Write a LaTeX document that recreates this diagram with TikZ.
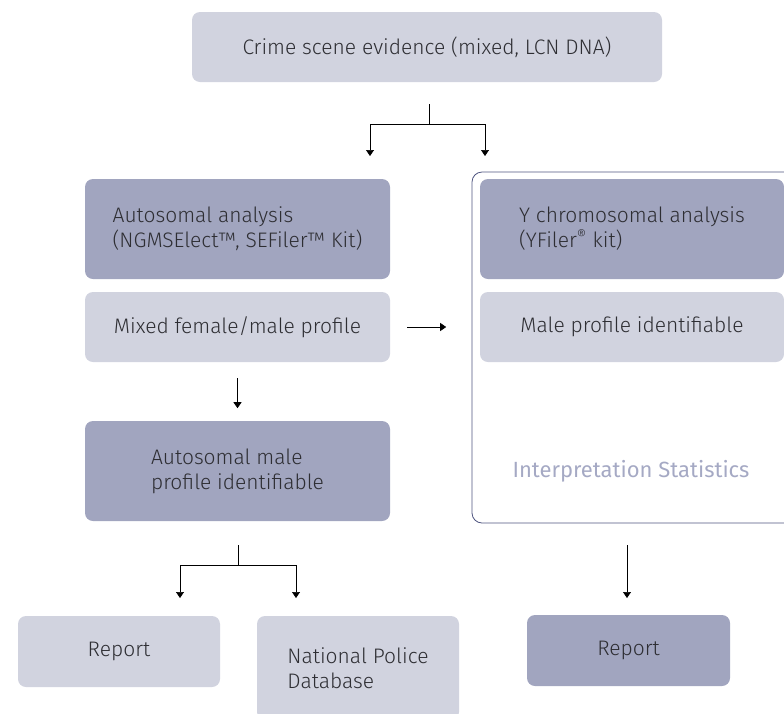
\documentclass[tikz,border=0pt]{standalone}
\usepackage{fontspec}
\setmainfont{Fira Sans Light}
\newfontfamily\statfont{Fira Sans}
\usetikzlibrary{arrows.meta}
\definecolor{boxdark}{HTML}{A1A5BF}
\definecolor{boxlight}{HTML}{D1D3DF}
\definecolor{framecol}{HTML}{4F5580}
\definecolor{inktext}{HTML}{2E2E33}
\definecolor{statcol}{HTML}{A5A9C4}
\tikzset{
  box/.style={rounded corners=8pt, minimum width=305pt, inner sep=0pt,
    align=left, text=inktext, font=\fontsize{21}{25}\selectfont},
  darkbox/.style={box, fill=boxdark},
  lightbox/.style={box, fill=boxlight},
  arr/.style={-{Triangle[width=8pt,length=6pt]}, line width=0.7pt},
}
\begin{document}
\begin{tikzpicture}[x=1pt,y=-1pt]
      \useasboundingbox (0,0) rectangle (784,713);

      \node[lightbox, minimum width=470pt, minimum height=70pt] (crime) at (427,47) {Crime scene evidence (mixed, LCN DNA)};

      \node[draw=framecol, line width=0.8pt, rounded corners=10pt, minimum width=330pt, minimum height=351pt] (yframe) at (637,347.5) {};

      \node[darkbox, minimum height=100pt] (auto) at (237.5,229) {Autosomal analysis\\(NGMSElect™, SEFiler™ Kit)};
      \node[lightbox, minimum height=70pt] (mixed) at (237.5,327) {Mixed female/male profile};
      \node[darkbox, minimum height=100pt] (automale) at (237.5,471) {Autosomal male\\profile identifiable};

      \node[darkbox, minimum width=304pt, minimum height=100pt] (ychrom) at (632,229) {Y chromosomal analysis\\(YFiler\textsuperscript{®} kit)};
      \node[lightbox, minimum width=304pt, minimum height=70pt] (ymale) at (632,327) {Male profile identifiable};
      \node[font=\statfont\fontsize{22}{24}\selectfont, text=statcol] (stats) at (631,471) {Interpretation Statistics};

      \node[lightbox, minimum width=202pt, minimum height=71pt] (report1) at (119,651.5) {Report};
      \node[lightbox, minimum width=202pt, minimum height=104pt] (npd) at (358,668) {National Police\\Database};
      \node[darkbox, minimum width=203pt, minimum height=71pt] (report2) at (628.5,650.5) {Report};

      % forks
      \coordinate (split1) at (429,104);
      \coordinate (autoin) at (370,156);
      \coordinate (yin) at (485,156);
      \draw[line width=0.7pt] (split1) -- (429,124);
      \draw[arr] (429,124) -| (autoin);
      \draw[arr] (429,124) -| (yin);

      \draw[arr] ([xshift=17pt]mixed.east) -- ([xshift=56pt]mixed.east);
      \draw[arr] ([yshift=-16pt]mixed.south) -- ([yshift=-46pt]mixed.south);

      \coordinate (split2) at (238,545);
      \coordinate (report1in) at (180,598);
      \coordinate (npdin) at (296,598);
      \draw[line width=0.7pt] (split2) -- (238,565);
      \draw[arr] (238,565) -| (report1in);
      \draw[arr] (238,565) -| (npdin);

      \coordinate (yout) at (627,545);
      \coordinate (report2in) at (627,598);
      \draw[arr] (yout) -- (report2in);
\end{tikzpicture}
\end{document}
